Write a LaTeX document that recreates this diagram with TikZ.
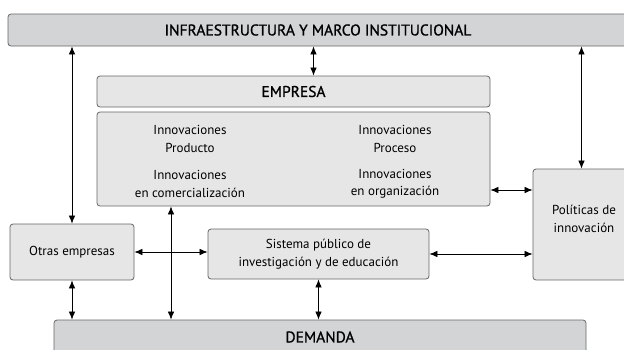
\documentclass[tikz,border=0pt]{standalone}
\usepackage{fontspec}
\setmainfont{PT Sans}
\newfontfamily\titulofont[FakeBold=1]{PT Sans}
\usetikzlibrary{arrows.meta}
\definecolor{cajaclara}{HTML}{E6E6E7}
\definecolor{cajaoscura}{HTML}{D3D4D6}
\definecolor{borde}{HTML}{666666}
\tikzset{
  caja/.style={draw=borde,line width=0.8pt,fill=cajaclara,rounded corners=3pt,inner sep=0pt,align=center},
  titulo/.style={font=\titulofont\fontsize{15.5}{18}\selectfont},
  texto/.style={align=center,inner sep=0pt},
  flecha/.style={<->,>={Latex[length=8pt,width=6.5pt]},line width=0.7pt}
}
\begin{document}
\begin{tikzpicture}[x=1pt,y=-1pt,font=\fontsize{13}{17.5}\selectfont]
  \clip (0,0) rectangle (624,349);
  % cajas
  \node[caja,titulo,fill=cajaoscura,minimum width=620pt,minimum height=32pt] (infra) at (318,30) {INFRAESTRUCTURA Y MARCO INSTITUCIONAL};
  \node[caja,titulo,minimum width=393pt,minimum height=31pt] (empresa) at (293.5,91.5) {EMPRESA};
  \node[caja,minimum width=393pt,minimum height=94pt] (innov) at (293.5,159) {};
  \node[texto] (prod) at (190,139) {Innovaciones\\Producto};
  \node[texto] (proc) at (395,139) {Innovaciones\\Proceso};
  \node[texto] (comer) at (190,184) {Innovaciones\\en comercialización};
  \node[texto] (organ) at (395,184) {Innovaciones\\en organización};
  \node[caja,minimum width=124pt,minimum height=56pt] (otras) at (72,252) {Otras empresas};
  \node[caja,minimum width=221pt,minimum height=50pt] (sistema) at (318.5,254) {Sistema público de\\investigación y de educación};
  \node[caja,minimum width=97pt,minimum height=111pt] (politicas) at (581.5,224.5) {};
  \node[texto] (poltxt) at (584,219) {Políticas de\\innovación};
  \node[caja,titulo,fill=cajaoscura,minimum width=532pt,minimum height=34pt] (demanda) at (320,337) {DEMANDA};
  % flechas
  \coordinate (e1) at ([xshift=20pt]empresa.north);
  \coordinate (i1) at ([xshift=-122.5pt]innov.south);
  \coordinate (i2) at ([yshift=-31pt]innov.east);
  \draw[flecha] (infra.south -| otras.north) -- (otras.north);
  \draw[flecha] (infra.south -| e1) -- (e1);
  \draw[flecha] (infra.south -| politicas.north) -- (politicas.north);
  \draw[flecha] (i2) -- (politicas.west |- i2);
  \draw[flecha] (otras.east) -- (sistema.west |- otras.east);
  \draw[flecha] (i1) -- (i1 |- demanda.north);
  \draw[flecha] (otras.south) -- (otras.south |- demanda.north);
  \draw[flecha] (sistema.south) -- (sistema.south |- demanda.north);
  \draw[flecha] (sistema.east) -- (politicas.west |- sistema.east);
\end{tikzpicture}
\end{document}
